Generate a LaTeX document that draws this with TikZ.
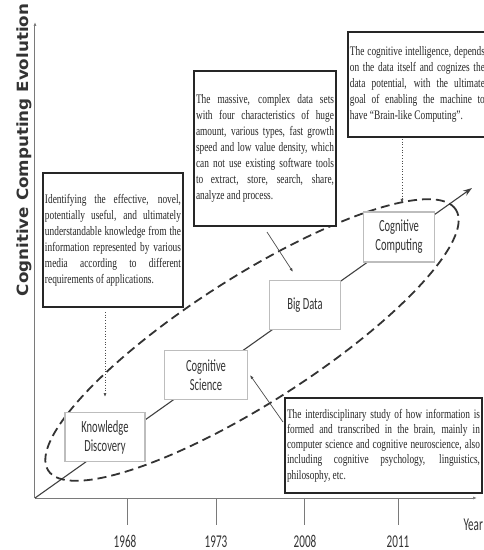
\documentclass[tikz,border=0pt]{standalone}
\usepackage{fontspec}
\newfontfamily\condsans[FakeStretch=0.62]{Carlito}
\newfontfamily\descfont[FakeStretch=0.72]{Liberation Serif}
\newfontfamily\captionfont[FakeStretch=1.08]{DejaVu Sans}
\usetikzlibrary{arrows.meta,shapes}
\pgfdeclarelayer{edgelayer}
\pgfdeclarelayer{nodelayer}
\pgfsetlayers{edgelayer,nodelayer,main}
\tolerance=10000
\hbadness=10000
\hyphenpenalty=10000
\definecolor{ink}{HTML}{333333}
\definecolor{axisgray}{HTML}{7A7A7A}
\definecolor{boxgray}{HTML}{BDBDBD}
\tikzstyle{none}=[inner sep=0pt]
\tikzstyle{era}=[rectangle,draw=boxgray,line width=1.3pt,fill=white,text=ink,align=center,inner sep=0pt,minimum height=49pt,font=\condsans\fontsize{17}{19}\selectfont]
\tikzstyle{note}=[rectangle,draw=black!85,line width=1.8pt,fill=white,text=black!85,align=justify,inner xsep=2pt,inner ysep=0pt,font=\descfont\fontsize{13}{16}\selectfont]
\tikzstyle{year}=[anchor=base,text=ink,font=\condsans\fontsize{18}{20}\selectfont]
\tikzstyle{caption}=[text=ink,font=\captionfont\bfseries\fontsize{15.5}{18}\selectfont]
\tikzstyle{axis}=[draw=axisgray,line width=1pt,-{Latex[length=4pt,width=3pt]}]
\tikzstyle{tick}=[draw=axisgray,line width=0.9pt]
\tikzstyle{trend}=[draw=black!75,line width=1.1pt,-{Stealth[length=9pt,width=6pt]}]
\tikzstyle{loop}=[draw=ink,line width=1.8pt,dash pattern=on 9pt off 5pt]
\tikzstyle{pointer}=[draw=black!70,line width=0.7pt,-{Latex[length=4pt,width=3pt]}]
\tikzstyle{dotpointer}=[pointer,dotted]

\begin{document}
\begin{tikzpicture}[x=10pt,y=10pt]
	\useasboundingbox (-3.5,-5.2) rectangle (44.9,49.8);
	\begin{pgfonlayer}{nodelayer}
		\node [style=none] (0) at (0, 0) {};
		\node [style=none] (1) at (0, 47.6) {};
		\node [style=none] (2) at (44.2, 0) {};
		\node [style=none] (3) at (43.7, 31) {};
		\node [style=era, minimum width=80pt] (4) at (7, 6.1) {Knowledge\\Discovery};
		\node [style=era, minimum width=83pt] (5) at (17.1, 12.3) {Cognitive\\Science};
		\node [style=era, minimum width=71pt] (6) at (27, 19.3) {Big Data};
		\node [style=era, minimum width=71pt, minimum height=50pt] (7) at (36.4, 26.1) {Cognitive\\Computing};
		\node [style=note, text width=136pt, minimum height=134pt] (8) at (7.8, 25.8) {Identifying the effective, novel,\linebreak potentially useful, and ultimately\linebreak understandable knowledge from the\linebreak information represented by various\linebreak media according to different\linebreak requirements of applications.};
		\node [style=note, text width=138pt, minimum height=155pt] (9) at (23, 34.95) {The massive, complex data sets\linebreak with four characteristics of huge\linebreak amount, various types, fast growth\linebreak speed and low value density, which\linebreak can not use existing software tools\linebreak to extract, store, search, share,\linebreak analyze and process.};
		\node [style=note, text width=135pt, minimum height=105pt, anchor=west] (10) at (31.2, 41.35) {The cognitive intelligence, depends\linebreak on the data itself and cognizes the\linebreak data potential, with the ultimate\linebreak goal of enabling the machine to\linebreak have “Brain-like Computing”.};
		\node [style=note, text width=193pt, minimum height=95pt, font=\descfont\fontsize{13}{15.2}\selectfont] (11) at (34.85, 5.25) {The interdisciplinary study of how information is\linebreak formed and transcribed in the brain, mainly in\linebreak computer science and cognitive neuroscience, also\linebreak including cognitive psychology, linguistics,\linebreak philosophy, etc.};
		\node [style=none] (12) at (7, 18.6) {};
		\node [style=none] (13) at (7, 10.1) {};
		\node [style=none] (14) at (23.2, 26.6) {};
		\node [style=none] (15) at (25.8, 22.6) {};
		\node [style=none] (16) at (36.7, 35.9) {};
		\node [style=none] (17) at (36.7, 29.5) {};
		\node [style=none] (18) at (24.8, 7.6) {};
		\node [style=none] (19) at (21.5, 12.3) {};
		\node [style=none] (20) at (9.2, 0) {};
		\node [style=none] (21) at (9.2, -2.7) {};
		\node [style=none] (22) at (18.1, 0) {};
		\node [style=none] (23) at (18.1, -2.7) {};
		\node [style=none] (24) at (26.9, 0) {};
		\node [style=none] (25) at (26.9, -2.7) {};
		\node [style=none] (26) at (36.3, 0) {};
		\node [style=none] (27) at (36.3, -2.7) {};
		\node [style=year] (28) at (9, -4.9) {1968};
		\node [style=year] (29) at (18.1, -4.9) {1973};
		\node [style=year] (30) at (27, -4.9) {2008};
		\node [style=year] (31) at (36.3, -4.9) {2011};
		\node [style=year, anchor=base west] (32) at (42.5, -3.2) {Year};
		\node [style=caption, rotate=90, anchor=base] (33) at (-0.7, 34.8) {Cognitive Computing Evolution};
		\node [style=none] (34) at (21.7, 15.8) {};
	\end{pgfonlayer}
	\begin{pgfonlayer}{edgelayer}
		\draw [style=axis] (0.center) to (1.center);
		\draw [style=axis] (0.center) to (2.center);
		\draw [style=tick] (20.center) to (21.center);
		\draw [style=tick] (22.center) to (23.center);
		\draw [style=tick] (24.center) to (25.center);
		\draw [style=tick] (26.center) to (27.center);
		\draw [style=trend] (0.center) to (3.center);
		\draw [style=loop, rotate around={32.6:(34.center)}] (34.center) ellipse (24.2 and 6.3);
		\draw [style=dotpointer] (12.center) to (13.center);
		\draw [style=pointer] (14.center) to (15.center);
		\draw [style=dotpointer] (16.center) to (17.center);
		\draw [style=pointer] (18.center) to (19.center);
	\end{pgfonlayer}
\end{tikzpicture}
\end{document}
